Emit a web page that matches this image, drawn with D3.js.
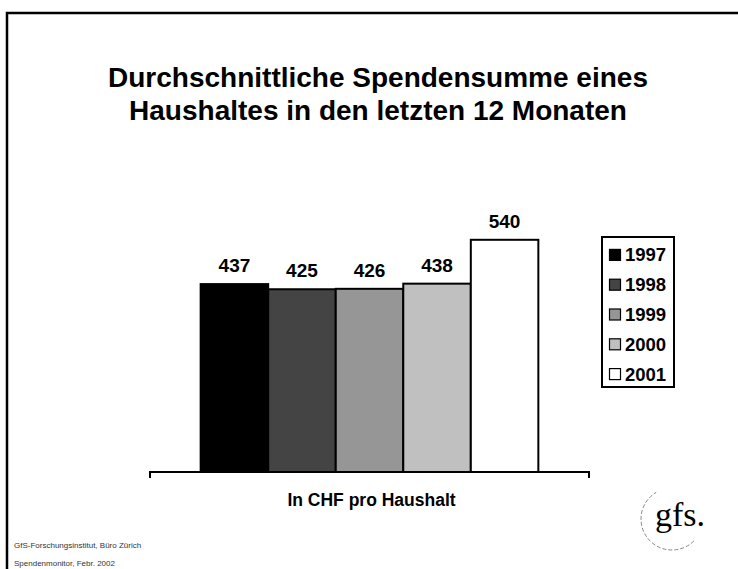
<!DOCTYPE html>
<meta charset="utf-8">
<style>
body { margin: 0; background: #fff; }
svg { display: block; font-family: Arial, "Liberation Sans", sans-serif; }
.bar { stroke: #000; stroke-width: 2; }
.axis-line { stroke: #000; stroke-width: 2; fill: none; }
</style>
<body>
<script src="https://d3js.org/d3.v7.min.js"></script>
<script>
// chart data
var category = "In CHF pro Haushalt";
var years = ["1997", "1998", "1999", "2000", "2001"];
var values = [437, 425, 426, 438, 540];
var colors = ["#000000", "#444444", "#969696", "#c0c0c0", "#ffffff"];
var titleLines = ["Durchschnittliche Spendensumme eines", "Haushaltes in den letzten 12 Monaten"];
var footerLines = ["GfS-Forschungsinstitut, Büro Zürich", "Spendenmonitor, Febr. 2002"];

var width = 738, height = 569;

var svg = d3.select("body").append("svg")
    .attr("width", width)
    .attr("height", height);

// slide frame (runs off the right and bottom)
svg.append("path")
    .attr("d", "M7," + (height + 5) + "V13H" + (width + 5))
    .attr("fill", "none")
    .attr("stroke", "#000")
    .attr("stroke-width", 2.5);

// title
svg.append("text")
    .attr("text-anchor", "middle")
    .attr("font-size", 28)
    .attr("font-weight", "bold")
    .selectAll("tspan")
    .data(titleLines)
    .enter().append("tspan")
        .attr("x", 378)
        .attr("y", function(d, i) { return 86.5 + i * 33.5; })
        .text(function(d) { return d; });

// scales
var x0 = d3.scaleBand().domain([category]).range([150, 589]);
var x1 = d3.scaleBand().domain(years)
    .range([0, x0.bandwidth()])
    .paddingInner(0)
    .paddingOuter(0.75);
var y = d3.scaleLinear().domain([0, 600]).range([472, 214]);

var g = svg.append("g")
    .attr("transform", "translate(" + x0(category) + ",0)");

// bars
g.selectAll("rect")
    .data(values)
    .enter().append("rect")
        .attr("class", "bar")
        .attr("x", function(d, i) { return x1(years[i]); })
        .attr("y", function(d) { return y(d); })
        .attr("width", x1.bandwidth())
        .attr("height", function(d) { return y(0) - y(d); })
        .attr("fill", function(d, i) { return colors[i]; });

// value labels
g.selectAll("text.val")
    .data(values)
    .enter().append("text")
        .attr("class", "val")
        .attr("x", function(d, i) { return x1(years[i]) + x1.bandwidth() / 2; })
        .attr("y", function(d) { return y(d) - 12; })
        .attr("text-anchor", "middle")
        .attr("font-size", 19)
        .attr("font-weight", "bold")
        .text(function(d) { return d; });

// category axis with end ticks
var xr = x0.range();
svg.append("path")
    .attr("class", "axis-line")
    .attr("d", "M" + xr[0] + ",478V" + y(0) + "H" + xr[1] + "V478");

svg.append("text")
    .attr("x", x0(category) + x0.bandwidth() / 2 + 2)
    .attr("y", 506)
    .attr("text-anchor", "middle")
    .attr("font-size", 17.5)
    .attr("font-weight", "bold")
    .text(category);

// legend
var ly = d3.scaleBand().domain(years).range([240, 389]);
svg.append("rect")
    .attr("x", 602)
    .attr("y", 237)
    .attr("width", 72)
    .attr("height", 150)
    .attr("fill", "#fff")
    .attr("stroke", "#000")
    .attr("stroke-width", 2);

var li = svg.selectAll("g.leg")
    .data(years)
    .enter().append("g")
        .attr("class", "leg")
        .attr("transform", function(d) { return "translate(0," + (ly(d) + ly.bandwidth() / 2) + ")"; });

li.append("rect")
    .attr("x", 609.5)
    .attr("y", -5.5)
    .attr("width", 11)
    .attr("height", 11)
    .attr("fill", function(d, i) { return colors[i]; })
    .attr("stroke", "#000")
    .attr("stroke-width", 1.2);

li.append("text")
    .attr("x", 625)
    .attr("y", 6.5)
    .attr("font-size", 18.5)
    .attr("font-weight", "bold")
    .text(function(d) { return d; });

// footer
svg.append("text")
    .attr("font-size", 8)
    .attr("fill", "#333")
    .selectAll("tspan")
    .data(footerLines)
    .enter().append("tspan")
        .attr("x", 14)
        .attr("y", function(d, i) { return 548 + i * 18; })
        .text(function(d) { return d; });

// gfs logo
var arcPath = d3.path();
arcPath.arc(672, 519, 31, Math.PI * 0.25, Math.PI * 1.33);
svg.append("path")
    .attr("d", arcPath.toString())
    .attr("fill", "none")
    .attr("stroke", "#888")
    .attr("stroke-width", 1)
    .attr("stroke-dasharray", "4,2");

svg.append("text")
    .attr("x", 655)
    .attr("y", 526)
    .attr("font-family", "'Liberation Serif', 'Times New Roman', serif")
    .attr("font-size", 34)
    .text("gfs.");
</script>
</body>
